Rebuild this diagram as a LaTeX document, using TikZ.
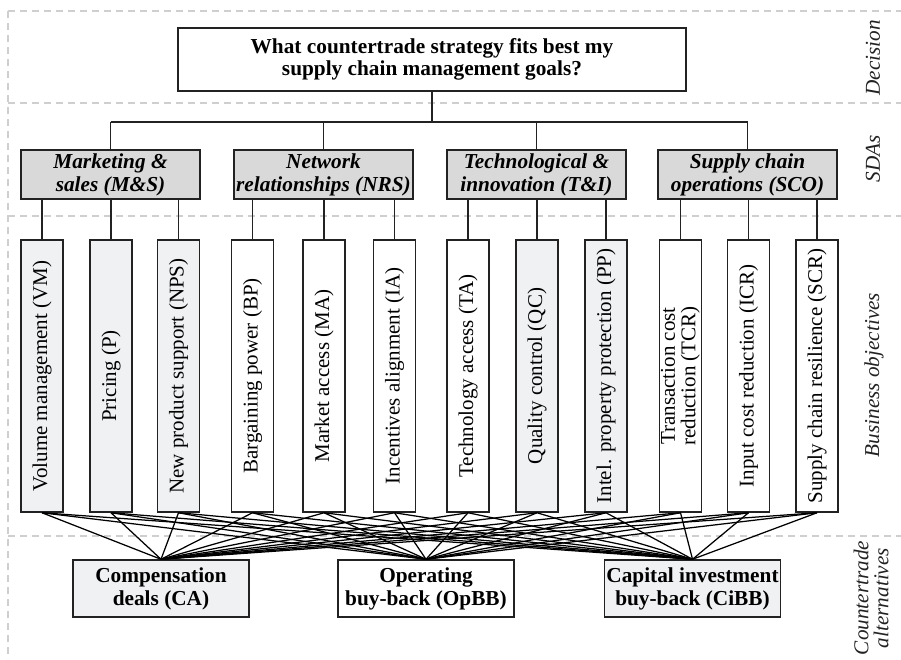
\documentclass[tikz,border=0pt]{standalone}
\usepackage{fontspec}
\setmainfont{Liberation Serif}
\definecolor{linec}{HTML}{222222}
\definecolor{sdafill}{HTML}{D9D9D9}
\definecolor{lightfill}{HTML}{EFF1F3}
\definecolor{dashc}{HTML}{CFCFCF}
\begin{document}
\begin{tikzpicture}[x=1pt,y=-1pt,
  box/.style={draw=linec, line width=1.5pt, inner sep=0pt, align=center, text=black},
  topbox/.style={box, fill=white, minimum width=508pt, minimum height=63pt,
    font=\fontsize{21.3}{21.5}\selectfont\bfseries},
  sdabox/.style={box, fill=sdafill, minimum width=179pt, minimum height=49pt,
    font=\fontsize{21.3}{23}\selectfont\bfseries\itshape},
  objbox/.style={box, rotate=90, minimum width=272pt, minimum height=42pt,
    font=\fontsize{21}{20.5}\selectfont},
  altbox/.style={box, minimum width=176pt, minimum height=57pt,
    font=\fontsize{21.3}{23}\selectfont\bfseries},
  sidelab/.style={rotate=90, align=center, inner sep=0pt,
    font=\fontsize{21.2}{20}\selectfont\itshape, text=linec},
  conn/.style={draw=linec, line width=1.4pt},
  fan/.style={draw=black, line width=1.25pt},
  dashline/.style={draw=dashc, line width=1.4pt, dash pattern=on 7pt off 5pt}
]
\useasboundingbox (0,0) rectangle (901,659);
% section divisions
\draw[dashline] (8,11) -- (901,11);
\draw[dashline] (8,103) -- (901,103);
\draw[dashline] (8,216) -- (901,216);
\draw[dashline] (8,536) -- (901,536);
\draw[dashline] (8,11) -- (8,659);

% decision
\node[topbox] (top) at (432,59.5) {What countertrade strategy fits best my\\supply chain management goals?};

% SDAs
\node[sdabox] (MS)  at (110.5,174.5) {Marketing \&\\sales (M\&S)};
\node[sdabox] (NRS) at (323.5,174.5) {Network\\relationships (NRS)};
\node[sdabox] (TI)  at (536.5,174.5) {Technological \&\\innovation (T\&I)};
\node[sdabox] (SCO) at (747.5,174.5) {Supply chain\\operations (SCO)};

% business objectives (rotated: .east is the top, .west the bottom)
\node[objbox, fill=lightfill] (VM)  at (42,376)    {Volume management (VM)};
\node[objbox, fill=lightfill] (P)   at (111,376)   {Pricing (P)};
\node[objbox, fill=lightfill] (NPS) at (178.5,376) {New product support (NPS)};
\node[objbox, fill=white]     (BP)  at (252.5,376) {Bargaining power (BP)};
\node[objbox, fill=white]     (MA)  at (324,376)   {Market access (MA)};
\node[objbox, fill=white]     (IA)  at (394.5,376) {Incentives alignment (IA)};
\node[objbox, fill=white]     (TA)  at (468,376)   {Technology access (TA)};
\node[objbox, fill=lightfill] (QC)  at (537,376)   {Quality control (QC)};
\node[objbox, fill=lightfill] (PP)  at (606,376)   {Intel. property protection (PP)};
\node[objbox, fill=white]     (TCR) at (680.5,376) {Transaction cost\\reduction (TCR)};
\node[objbox, fill=white]     (ICR) at (748.5,376) {Input cost reduction (ICR)};
\node[objbox, fill=white]     (SCR) at (817,376)   {Supply chain resilience (SCR)};

% countertrade alternatives
\node[altbox, fill=lightfill] (CA)   at (161,588.5)   {Compensation\\deals (CA)};
\node[altbox, fill=white]     (OpBB) at (426,588.5)   {Operating\\buy-back (OpBB)};
\node[altbox, fill=lightfill] (CiBB) at (692.5,588.5) {Capital investment\\buy-back (CiBB)};

% side labels
\node[sidelab] (lDec) at (873,58)  {Decision};
\node[sidelab] (lSDA) at (873,159) {SDAs};
\node[sidelab] (lBO)  at (874,375) {Business objectives};
\node[sidelab] (lCA)  at (871,598) {Countertrade\\alternatives};

% connectors: decision to SDAs
\coordinate (bus) at (0,122);
\draw[conn] (top.south) -- (top.south |- bus);
\draw[conn] (MS.north |- bus) -- (SCO.north |- bus);
\foreach \s in {MS,NRS,TI,SCO}
  \draw[conn] (\s.north) -- (\s.north |- bus);

% SDAs to objectives
\foreach \s/\o in {MS/VM,MS/P,MS/NPS,NRS/BP,NRS/MA,NRS/IA,TI/TA,TI/QC,TI/PP,SCO/TCR,SCO/ICR,SCO/SCR}
  \draw[conn] (\o.east) -- (\o.east |- \s.south);

% objectives to alternatives
\foreach \o in {VM,P,NPS,BP,MA,IA,TA,QC,PP,TCR,ICR,SCR}
  \foreach \a in {CA,OpBB,CiBB}
    \draw[fan] (\o.west) -- (\a.north);
\end{tikzpicture}
\end{document}
